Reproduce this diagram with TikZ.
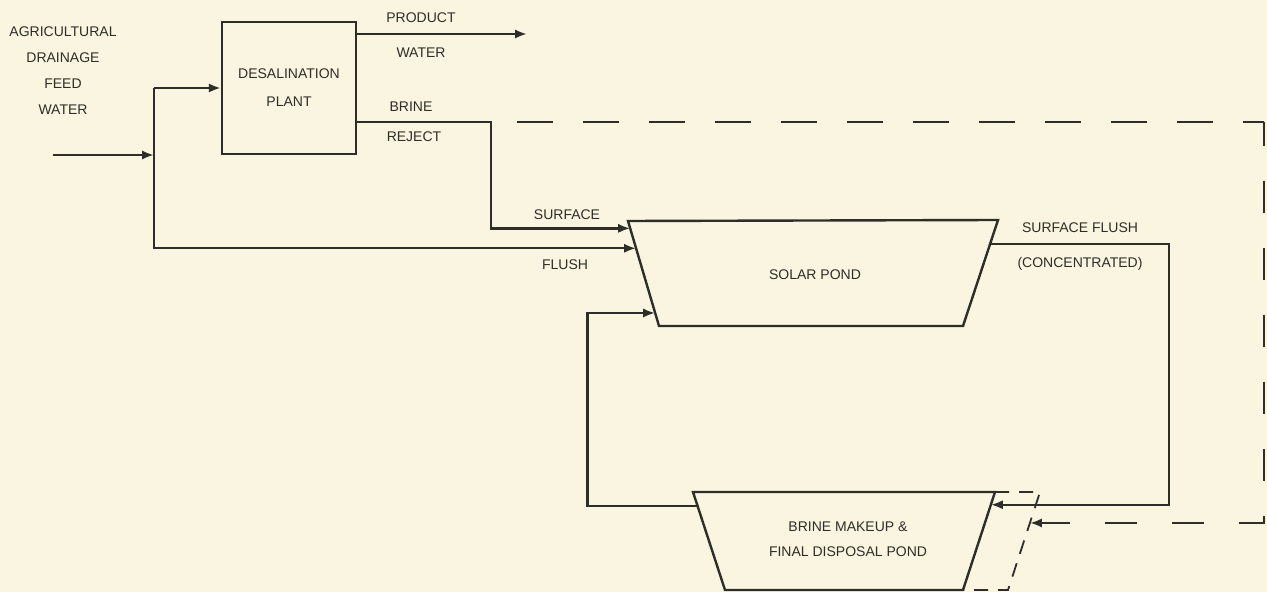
\documentclass[tikz,border=0pt]{standalone}
\usepackage{fontspec}
\setmainfont{Liberation Sans}
\usetikzlibrary{arrows.meta,calc}
\definecolor{scanPaper}{HTML}{F9F5E0}
\definecolor{scanInk}{HTML}{2E2D27}
\tikzset{
  flow label/.style={
    font=\fontsize{7}{13}\selectfont, text=scanInk,
    inner sep=0pt, align=center,
  },
  plant box/.style={
    rectangle, draw=scanInk, line width=1.2pt,
    minimum width=67pt, minimum height=66pt,
    align=center, text=scanInk,
    font=\fontsize{7}{14}\selectfont,
  },
  pipe/.style={draw=scanInk, line width=1.2pt},
  feed arrow/.style={pipe, -{Latex[length=6pt,width=4.6pt]}},
  overflow/.style={pipe, dash pattern=on 18pt off 15pt},
  overflow return/.style={pipe, dash pattern=on 16pt off 17.5pt},
  pond rim/.style={pipe, line width=0.9pt, dash pattern=on 7pt off 5pt},
}

\begin{document}
\begin{tikzpicture}[x=0.5pt, y=-0.5pt]

\fill[scanPaper] (0,0) rectangle (1267,592);
\useasboundingbox (0,0) rectangle (1267,592);

%% Feed water and desalination plant
\node[flow label] (feedLbl) at (63,71) {AGRICULTURAL\\DRAINAGE\\FEED\\WATER};
\node[plant box] (desal) at (289,88) {DESALINATION\\PLANT};
\coordinate (feedIn) at (53,155);
\coordinate (feedJct) at (154,155);

%% Solar pond
\coordinate (spTL) at (628,221);
\coordinate (spTR) at (998,220);
\coordinate (spBR) at (963,326);
\coordinate (spBL) at (659,326);
\draw[pipe] (spTL) -- (spTR) -- (spBR) -- (spBL) -- cycle;
\node[flow label] (spLbl) at (815,275) {SOLAR POND};
\coordinate (spSurf) at ($(spTL)!0.07!(spBL)$);
\coordinate (spFlush) at ($(spTL)!0.26!(spBL)$);
\coordinate (spRet) at ($(spTL)!0.876!(spBL)$);
\coordinate (spOut) at ($(spTR)!0.226!(spBR)$);

%% Brine makeup & final disposal pond
\coordinate (bpTL) at (693,492);
\coordinate (bpTR) at (995,492);
\coordinate (bpBR) at (963,590);
\coordinate (bpBL) at (725,590);
\draw[pipe] (bpTL) -- (bpTR) -- (bpBR) -- (bpBL) -- cycle;
\node[flow label, font=\fontsize{7}{12.5}\selectfont] (bpLbl) at (848,539)
  {BRINE MAKEUP \&\\FINAL DISPOSAL POND};
\coordinate (bpOut) at ($(bpTL)!0.14!(bpBL)$);
\coordinate (bpIn) at ($(bpTR)!0.13!(bpBR)$);
\coordinate (rimTop) at (1040,492);
\coordinate (rimBot) at (1008,590);
\coordinate (ovIn) at ($(rimTop)!0.316!(rimBot)$);
\draw[pond rim] (bpTR) -- (rimTop) -- (rimBot) -- (bpBR);

%% Flows
\draw[feed arrow] (feedIn) -- (feedJct);
\draw[feed arrow] (feedJct |- desal.west) -- (desal.west);
\draw[feed arrow] (feedJct |- desal.west) -- (feedJct |- spFlush) -- (spFlush);

\coordinate (prodOut) at (527,34);
\draw[feed arrow] (desal.east |- prodOut) -- (prodOut);
\node[flow label] (prodLbl) at (421,18) {PRODUCT};
\node[flow label] (prodLbl2) at (421,53) {WATER};

\coordinate (brineCnr) at (491,122);
\draw[feed arrow] (desal.east |- brineCnr) -- (brineCnr) -- (brineCnr |- spSurf) -- (spSurf);
\node[flow label] (brineLbl) at (411,107) {BRINE};
\node[flow label] (brineLbl2) at (414,137) {REJECT};
\node[flow label] (surfLbl) at (567,215) {SURFACE};
\node[flow label] (flushLbl) at (565,265) {FLUSH};

\draw[feed arrow] (spOut) -- ++(179,0) |- (bpIn);
\node[flow label] (concLbl) at (1080,228) {SURFACE FLUSH};
\node[flow label] (concLbl2) at (1080,264) {(CONCENTRATED)};

\draw[feed arrow] (bpOut) -- ++(-110,0) |- (spRet);

%% Overflow (dashed)
\coordinate (ovRight) at (1264,122);
\draw[overflow, dash phase=20pt] (brineCnr) -- (ovRight);
\draw[overflow return, dash phase=4pt, -{Latex[length=6pt,width=4.6pt]}]
  (ovRight) -- (ovRight |- ovIn) -- (ovIn);

\end{tikzpicture}
\end{document}
